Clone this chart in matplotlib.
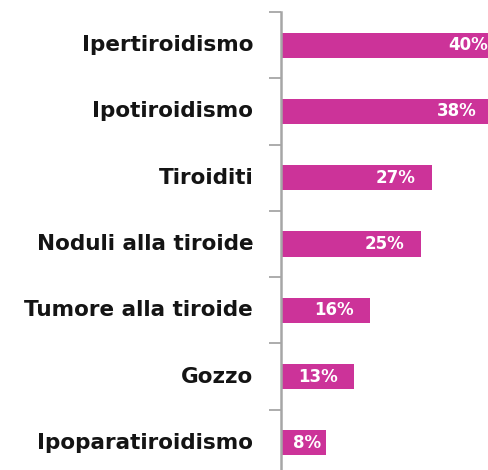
import matplotlib
matplotlib.use('Agg')
import matplotlib.pyplot as plt
import numpy as np

categories = ['Ipertiroidismo', 'Ipotiroidismo', 'Tiroiditi', 'Noduli alla tiroide',
              'Tumore alla tiroide', 'Gozzo', 'Ipoparatiroidismo']
values = [40, 38, 27, 25, 16, 13, 8]
value_labels = ['40%', '38%', '27%', '25%', '16%', '13%', '8%']

bar_color = '#CC3399'
axis_color = '#A6A6A6'

plt.rcParams['font.family'] = ['DejaVu Sans']

fig = plt.figure(figsize=(4.88, 4.70), dpi=100)
W, H = 488, 470
# axis line at x=281 px, top at y=12 px, category pitch ~66.3 px
left = 281 / W
top = (H - 12) / H
bottom = (H - 476) / H
ax = fig.add_axes([left, bottom, 1 - left, top - bottom])

pos = np.arange(len(categories))
ax.barh(pos, values, height=0.38, color=bar_color, zorder=2)

px_per_pct = 5.58
ax.set_xlim(0, (W - 281) / px_per_pct)
ax.set_ylim(len(categories) - 0.5, -0.5)

for p, v, lab in zip(pos, values, value_labels):
    x = max(v - 16 / px_per_pct, 40 / px_per_pct)
    ax.text(x, p, lab, ha='right', va='center', color='white',
            fontsize=12, fontweight='bold', clip_on=False)

ax.set_yticks(pos)
ax.set_yticklabels(categories, fontsize=15.5, fontweight='bold', color='#141414')
ax.tick_params(axis='y', which='major', length=0, pad=20)
for t in ax.get_yticklabels():
    t.set_verticalalignment('center')
ax.set_yticks(np.arange(len(categories)) - 0.5, minor=True)
ax.tick_params(axis='y', which='minor', length=9, width=1.3, color=axis_color)
ax.set_xticks([])

for s in ['top', 'right', 'bottom']:
    ax.spines[s].set_visible(False)
ax.spines['left'].set_color(axis_color)
ax.spines['left'].set_linewidth(1.8)

fig.savefig('out.png', dpi=100)
